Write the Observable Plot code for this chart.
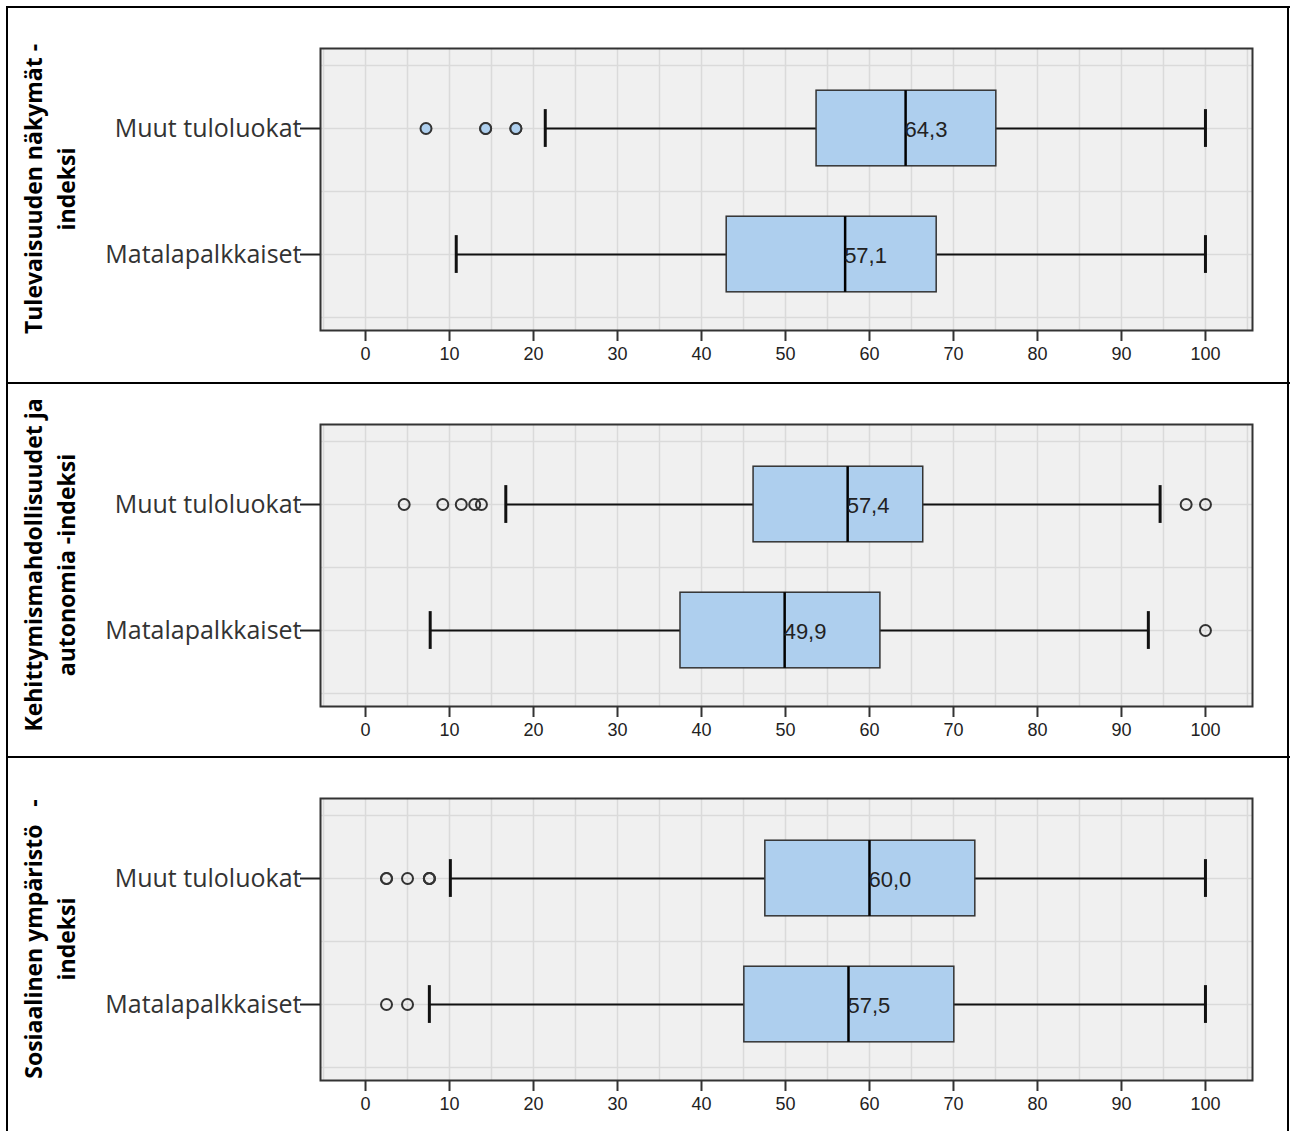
<!DOCTYPE html>
<html>
<head>
<meta charset="utf-8">
<script src="https://cdn.jsdelivr.net/npm/d3@7"></script>
<script src="https://cdn.jsdelivr.net/npm/@observablehq/plot@0.6"></script>
<style>
  html, body { margin: 0; padding: 0; background: #fff; }
  #root { position: relative; width: 1290px; height: 1131px; overflow: hidden; background: #fff; }
  .line { position: absolute; background: #000; }
  .panel { position: absolute; left: 8px; }
  .title { position: absolute; left: 50px; transform: translate(-50%, -50%) rotate(-90deg);
           white-space: pre; text-align: center; font-family: "Open Sans", sans-serif; font-weight: 700;
           font-size: 23px; line-height: 33px; color: #000; }
</style>
</head>
<body>
<div id="root"></div>
<script>
// ---- data ----
const categories = ["Muut tuloluokat", "Matalapalkkaiset"];
const panelTitles = [
  "Tulevaisuuden näkymät -\nindeksi",
  "Kehittymismahdollisuudet ja\nautonomia -indeksi",
  "Sosiaalinen ympäristö   -\nindeksi"
];
// per panel: [Muut tuloluokat, Matalapalkkaiset]
const whiskerLow  = [[21.4, 10.8], [16.7, 7.7], [10.1, 7.6]];
const q1          = [[53.7, 43.0], [46.2, 37.5], [47.6, 45.1]];
const median      = [[64.3, 57.1], [57.4, 49.9], [60.0, 57.5]];
const q3          = [[75.1, 68.0], [66.4, 61.3], [72.6, 70.1]];
const whiskerHigh = [[100, 100], [94.6, 93.2], [100, 100]];
const medianLabels = [["64,3", "57,1"], ["57,4", "49,9"], ["60,0", "57,5"]];
const outliers = [
  [[7.2, 14.3, 14.3, 17.9, 17.9], []],
  [[4.6, 9.2, 11.4, 13.0, 13.8, 97.7, 100], [100]],
  [[2.5, 2.5, 5.0, 7.6, 7.6, 7.6], [2.5, 5.0]]
];
const outlierFill = ["#aecfee", "none", "none"];
const xTicks = [0, 10, 20, 30, 40, 50, 60, 70, 80, 90, 100];

// ---- layout ----
const root = document.getElementById("root");
function line(x, y, w, h) {
  const d = document.createElement("div");
  d.className = "line";
  Object.assign(d.style, {left: x + "px", top: y + "px", width: w + "px", height: h + "px"});
  root.appendChild(d);
}
const panelTops = [7, 383, 757];
line(6, 6, 1284, 2);
line(6, 382, 1284, 2);
line(6, 756, 1284, 2);
line(6, 6, 2, 1125);
line(1287, 6, 2, 1125);

panelTops.forEach((top, p) => {
  const boxes = categories.map((c, i) => ({
    i, lo: whiskerLow[p][i], q1: q1[p][i], med: median[p][i], q3: q3[p][i], hi: whiskerHigh[p][i],
    label: medianLabels[p][i]
  }));
  const outs = [];
  categories.forEach((c, i) => outliers[p][i].forEach(v => outs.push({i, v})));

  const chart = Plot.plot({
    width: 1280, height: 374,
    marginLeft: 312, marginRight: 36, marginTop: 41, marginBottom: 51,
    x: {domain: [-5.36, 105.6]},
    y: {domain: [-0.635, 1.603], reverse: true},
    style: {background: "transparent", overflow: "visible"},
    marks: [
      Plot.frame({fill: "#f0f0f0", stroke: null}),
      Plot.ruleX(d3.range(-5, 106, 5), {stroke: "#dadada", strokeWidth: 1.5}),
      Plot.ruleY([-0.5, 0, 0.5, 1, 1.5], {stroke: "#dadada", strokeWidth: 1.5}),
      Plot.ruleY(boxes, {y: "i", x1: "lo", x2: "hi", stroke: "#111", strokeWidth: 2}),
      Plot.ruleX(boxes, {x: "lo", y1: d => d.i - 0.15, y2: d => d.i + 0.15, stroke: "#111", strokeWidth: 3}),
      Plot.ruleX(boxes, {x: "hi", y1: d => d.i - 0.15, y2: d => d.i + 0.15, stroke: "#111", strokeWidth: 3}),
      Plot.rect(boxes, {x1: "q1", x2: "q3", y1: d => d.i - 0.3, y2: d => d.i + 0.3,
        fill: "#aecfee", stroke: "#333", strokeWidth: 1.5}),
      Plot.ruleX(boxes, {x: "med", y1: d => d.i - 0.3, y2: d => d.i + 0.3, stroke: "#000", strokeWidth: 2.5}),
      Plot.text(boxes, {x: "med", y: "i", text: "label", textAnchor: "start", dx: -1, dy: 1,
        fontSize: 22, fontFamily: "Liberation Sans, Arial, sans-serif", fill: "#222"}),
      Plot.dot(outs, {x: "v", y: "i", r: 5.5, fill: outlierFill[p], stroke: "#333", strokeWidth: 2}),
      Plot.frame({stroke: "#333", strokeWidth: 2}),
      Plot.axisX({ticks: xTicks, label: null, tickSize: 11, tickPadding: 6, fontSize: 18, strokeWidth: 2,
        stroke: "#333", fill: "#222", fontFamily: "Liberation Sans, Arial, sans-serif"}),
      Plot.axisY({ticks: [0, 1], label: null, tickFormat: i => categories[i], tickSize: 20, tickPadding: -1,
        fontSize: 25, strokeWidth: 2, stroke: "#222", fill: "#333", fontFamily: "Open Sans, sans-serif"})
    ]
  });
  const wrap = document.createElement("div");
  wrap.className = "panel";
  wrap.style.top = top + "px";
  wrap.appendChild(chart);
  root.appendChild(wrap);

  const t = document.createElement("div");
  t.className = "title";
  t.textContent = panelTitles[p];
  t.style.top = (top + 41 + 141) + "px";
  root.appendChild(t);
});
</script>
</body>
</html>
